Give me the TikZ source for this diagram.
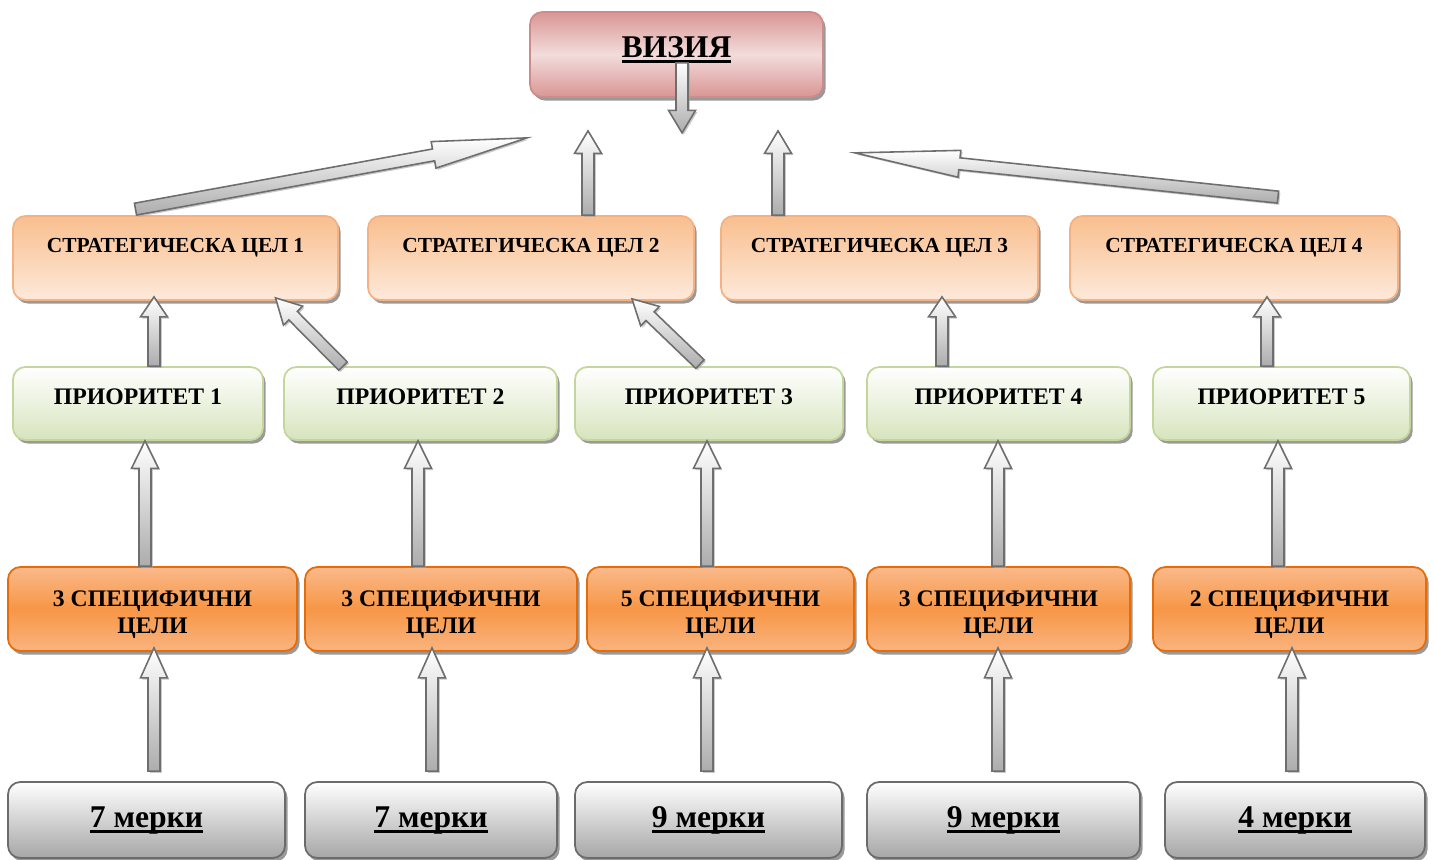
\documentclass[tikz,border=0pt]{standalone}
\usepackage{fontspec}
\setmainfont{Liberation Serif}
\usepackage{tikz}
\usetikzlibrary{calc, shadows}
\newcommand\thickul[1]{\leavevmode\setbox0=\hbox{#1}\rlap{\rule[-3.2pt]{\wd0}{1.5pt}}\box0}
\newcommand\lift{\rule{0pt}{15.5pt}}
\definecolor{visdark}{HTML}{D99694}
\definecolor{vislight}{HTML}{F2DCDB}
\definecolor{visline}{HTML}{CD8C8C}
\definecolor{strdark}{HTML}{F9BF8F}
\definecolor{strlight}{HTML}{FDE9DA}
\definecolor{strline}{HTML}{F6B183}
\definecolor{priodark}{HTML}{D7E4BD}
\definecolor{prioline}{HTML}{C3D69B}
\definecolor{spectop}{HTML}{FAB98A}
\definecolor{specmid}{HTML}{F79646}
\definecolor{specline}{HTML}{E46C0A}
\definecolor{measdark}{HTML}{A6A6A6}
\definecolor{measline}{HTML}{6B6B6B}
\definecolor{arrline}{HTML}{6E6E6E}
\tikzset{
    box/.style={rectangle, rounded corners=7pt, line width=1pt, inner sep=0pt,
        drop shadow={shadow xshift=1.5pt, shadow yshift=-2pt, fill=black, opacity=0.4}},
    vis/.style={box, draw=visline, top color=visdark, bottom color=visdark, middle color=vislight,
        text height=0.9cm, text depth=0.8cm, font=\fontsize{18}{20}\selectfont\bfseries},
    strat/.style={box, draw=strline, top color=strdark, bottom color=strlight,
        text height=0.72cm, text depth=0.96cm, font=\fontsize{12.2}{14}\selectfont\bfseries},
    prio/.style={box, draw=prioline, top color=white, bottom color=priodark,
        text height=0.74cm, text depth=0.72cm, font=\fontsize{13.5}{15}\selectfont\bfseries},
    spec/.style={box, draw=specline, top color=spectop, bottom color=spectop!85!specmid, middle color=specmid,
        minimum height=1.68cm, align=center, font=\fontsize{13.5}{15.3}\selectfont\bfseries},
    meas/.style={box, draw=measline, top color=white, bottom color=measdark,
        text height=0.9cm, text depth=0.62cm, font=\fontsize{18}{20}\selectfont\bfseries},
    fatarr/.style={draw=arrline, line width=0.9pt, line join=miter, top color=white, bottom color=gray!65,
        drop shadow={shadow xshift=1pt, shadow yshift=-1pt, fill=gray!70, opacity=0.6}},
}
% block arrow: [head length]{tail}{tip}
\newcommand\fatarrow[3][0.55cm]{%
    \coordinate (fa-t) at #2;
    \coordinate (fa-h) at #3;
    \coordinate (fa-n) at ($(fa-h)!#1!(fa-t)$);
    \draw[fatarr] ($(fa-t)!0.12cm!90:(fa-h)$) -- ($(fa-n)!0.12cm!90:(fa-h)$)
        -- ($(fa-n)!0.27cm!90:(fa-h)$) -- (fa-h) -- ($(fa-n)!0.27cm!-90:(fa-h)$)
        -- ($(fa-n)!0.12cm!-90:(fa-h)$) -- ($(fa-t)!0.12cm!-90:(fa-h)$) -- cycle;
}

\begin{document}
\begin{tikzpicture}[x=0.02cm, y=-0.02cm]
    \useasboundingbox (0,0) rectangle (1433,859);

    \node [vis, minimum width=5.86cm] (vis) at (676.5,54.5) {\thickul{ВИЗИЯ}};

    \node [strat, minimum width=6.5cm]  (s1) at (175.5,258) {СТРАТЕГИЧЕСКА ЦЕЛ 1};
    \node [strat, minimum width=6.52cm] (s2) at (531,258)   {СТРАТЕГИЧЕСКА ЦЕЛ 2};
    \node [strat, minimum width=6.34cm] (s3) at (879.5,258) {СТРАТЕГИЧЕСКА ЦЕЛ 3};
    \node [strat, minimum width=6.56cm] (s4) at (1234,258)  {СТРАТЕГИЧЕСКА ЦЕЛ 4};

    \node [prio, minimum width=5.0cm]  (p1) at (138,403.5)    {ПРИОРИТЕТ 1};
    \node [prio, minimum width=5.46cm] (p2) at (420.5,403.5)  {ПРИОРИТЕТ 2};
    \node [prio, minimum width=5.36cm] (p3) at (709,403.5)    {ПРИОРИТЕТ 3};
    \node [prio, minimum width=5.26cm] (p4) at (998.5,403.5)  {ПРИОРИТЕТ 4};
    \node [prio, minimum width=5.14cm] (p5) at (1281.5,403.5) {ПРИОРИТЕТ 5};

    \node [spec, minimum width=5.78cm] (c1) at (152.5,609)  {\lift 3 СПЕЦИФИЧНИ\\ЦЕЛИ};
    \node [spec, minimum width=5.44cm] (c2) at (441,609)    {\lift 3 СПЕЦИФИЧНИ\\ЦЕЛИ};
    \node [spec, minimum width=5.34cm] (c3) at (720.5,609)  {\lift 5 СПЕЦИФИЧНИ\\ЦЕЛИ};
    \node [spec, minimum width=5.26cm] (c4) at (998.5,609)  {\lift 3 СПЕЦИФИЧНИ\\ЦЕЛИ};
    \node [spec, minimum width=5.46cm] (c5) at (1289.5,609) {\lift 2 СПЕЦИФИЧНИ\\ЦЕЛИ};

    \node [meas, minimum width=5.54cm] (m1) at (146.5,820)  {\thickul{7 мерки}};
    \node [meas, minimum width=5.04cm] (m2) at (431,820)    {\thickul{7 мерки}};
    \node [meas, minimum width=5.34cm] (m3) at (708.5,820)  {\thickul{9 мерки}};
    \node [meas, minimum width=5.46cm] (m4) at (1003.5,820) {\thickul{9 мерки}};
    \node [meas, minimum width=5.2cm]  (m5) at (1295,820)   {\thickul{4 мерки}};

    % goals to vision
    \fatarrow[0.45cm]{($(vis.south)+(5.5,-35)$)}{($(vis.south)+(5.5,35)$)}
    \fatarrow[0.45cm]{($(s2.north)+(57,0)$)}{($(vis.south)+(-88.5,33)$)}
    \fatarrow[0.45cm]{($(s3.north)+(-101.5,0)$)}{($(vis.south)+(101.5,33)$)}
    \fatarrow[1.9cm]{($(s1.north)+(-40,-6)$)}{($(vis.south)+(-149.5,40)$)}
    \fatarrow[2.1cm]{($(s4.north)+(44,-18)$)}{($(vis.south)+(178.5,55)$)}

    % priorities to goals
    \fatarrow[0.4cm]{($(p1.north)+(16,0)$)}{($(s1.south)+(-21.5,-4)$)}
    \fatarrow[0.5cm]{($(p2.north)+(-77.5,0)$)}{($(s1.south)+(100,-3)$)}
    \fatarrow[0.5cm]{($(p3.north)+(-9,-2)$)}{($(s2.south)+(101,-2)$)}
    \fatarrow[0.4cm]{($(p4.north)+(-56.5,0)$)}{($(s3.south)+(62.5,-4)$)}
    \fatarrow[0.4cm]{($(p5.north)+(-14.5,0)$)}{($(s4.south)+(33,-4)$)}

    % specific goals to priorities
    \fatarrow{($(c1.north)+(-7.5,0)$)}{($(p1.south)+(7,0)$)}
    \fatarrow{($(c2.north)+(-23,0)$)}{($(p2.south)+(-2.5,0)$)}
    \fatarrow{($(c3.north)+(-13.5,0)$)}{($(p3.south)+(-2,0)$)}
    \fatarrow{($(c4.north)+(-0.5,0)$)}{($(p4.south)+(-0.5,0)$)}
    \fatarrow{($(c5.north)+(-11.5,0)$)}{($(p5.south)+(-3.5,0)$)}

    % measures to specific goals
    \fatarrow[0.6cm]{($(m1.north)+(7.5,-10)$)}{($(c1.south)+(1.5,-4)$)}
    \fatarrow[0.6cm]{($(m2.north)+(1,-10)$)}{($(c2.south)+(-9,-4)$)}
    \fatarrow[0.6cm]{($(m3.north)+(-1.5,-10)$)}{($(c3.south)+(-13.5,-4)$)}
    \fatarrow[0.6cm]{($(m4.north)+(-5.5,-10)$)}{($(c4.south)+(-0.5,-4)$)}
    \fatarrow[0.6cm]{($(m5.north)+(-3,-10)$)}{($(c5.south)+(2.5,-4)$)}
\end{tikzpicture}
\end{document}
